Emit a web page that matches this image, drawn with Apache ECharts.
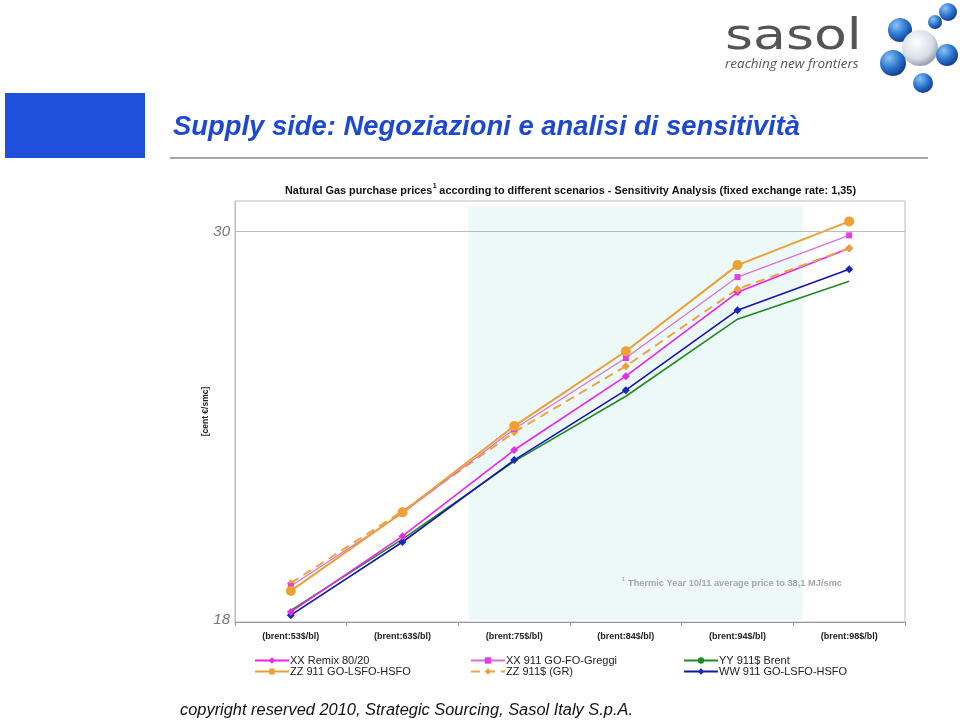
<!DOCTYPE html>
<html>
<head>
<meta charset="utf-8">
<script src="https://cdn.jsdelivr.net/npm/echarts@6/dist/echarts.min.js"></script>
<style>html,body{margin:0;padding:0;background:#fff}#c{width:960px;height:720px}</style>
</head>
<body>
<div id="c"></div>
<script>
var categories = ['(brent:53$/bl)', '(brent:63$/bl)', '(brent:75$/bl)', '(brent:84$/bl)', '(brent:94$/bl)', '(brent:98$/bl)'];
var yTickLabels = [18, 30];
var xxRemix  = [18.25, 20.59, 23.25, 25.53, 28.12, 29.48];
var xxGreggi = [19.05, 21.30, 23.90, 26.09, 28.59, 29.88];
var yyBrent  = [18.30, 20.50, 22.90, 24.91, 27.29, 28.46];
var zzLsfo   = [18.90, 21.33, 23.99, 26.30, 28.96, 30.31];
var zzGr     = [19.14, 21.36, 23.80, 25.84, 28.22, 29.48];
var wwLsfo   = [18.15, 20.41, 22.94, 25.10, 27.57, 28.83];
var seriesNames = ['XX Remix 80/20', 'XX 911 GO-FO-Greggi', 'YY 911$ Brent', 'ZZ 911 GO-LSFO-HSFO', 'ZZ 911$ (GR)', 'WW 911 GO-LSFO-HSFO'];

var chart = echarts.init(document.getElementById('c'));
var F = 'Liberation Sans, Arial, sans-serif';
var ctx = document.createElement('canvas').getContext('2d');
function fit(text, font, target) { ctx.font = font; return target / ctx.measureText(text).width; }

function blueBall(cx, cy, r) {
  return {type: 'circle', z: 10, shape: {cx: cx, cy: cy, r: r}, style: {fill: new echarts.graphic.RadialGradient(0.35, 0.3, 0.8, [{offset: 0, color: '#8cc4f4'}, {offset: 0.5, color: '#2d78d0'}, {offset: 1, color: '#0a2f80'}])}};
}
var legendCommon = {orient: 'vertical', top: 655, padding: 0, itemWidth: 34, itemHeight: 8, itemGap: 0,
  textStyle: {fontFamily: F, fontSize: 11, color: '#222', lineHeight: 11, padding: [0, 0, 0, -4]}};

var titleA = 'Natural Gas purchase prices';
var titleB = ' according to different scenarios - Sensitivity Analysis (fixed exchange rate: 1,35)';
var titleFont = 'bold 11px "Liberation Sans", Arial, sans-serif';
var supW = 4;
ctx.font = titleFont;
var rawA = ctx.measureText(titleA).width, rawB = ctx.measureText(titleB).width;
var tScale = (571 - supW) / (rawA + rawB);
var wA = rawA * tScale;

var header = 'Supply side: Negoziazioni e analisi di sensitività';
var headerFont = 'italic bold 28px "Liberation Sans", Arial, sans-serif';
var hScale = fit(header, headerFont, 627);

var footer = 'copyright reserved 2010, Strategic Sourcing, Sasol Italy S.p.A.';
var footerFont = 'italic 16px "Liberation Sans", Arial, sans-serif';
var fScale = fit(footer, footerFont, 453);

var note = 'Thermic Year 10/11 average price to 38,1 MJ/smc';
var noteFont = 'bold 9px "Liberation Sans", Arial, sans-serif';
var nScale = fit(note, noteFont, 214);

chart.setOption({
  animation: false,
  backgroundColor: '#fff',
  legend: [
    Object.assign({left: 254, data: [seriesNames[0], seriesNames[3]]}, legendCommon),
    Object.assign({left: 470, data: [seriesNames[1], seriesNames[4]]}, legendCommon),
    Object.assign({left: 683, data: [seriesNames[2], seriesNames[5]]}, legendCommon)
  ],
  grid: {left: 235, right: 55, top: 201, bottom: 98, show: true, borderColor: '#bbb', borderWidth: 1, backgroundColor: '#fff'},
  xAxis: [{
    type: 'category', data: categories, boundaryGap: true,
    axisLine: {lineStyle: {color: '#999'}},
    axisTick: {show: true, length: 4, lineStyle: {color: '#999'}},
    axisLabel: {fontFamily: F, fontSize: 9, fontWeight: 'bold', color: '#222', margin: 10}
  }, {
    type: 'value', min: 0, max: 6, show: false
  }],
  yAxis: {
    type: 'value', min: 17.94, max: 30.94,
    name: '[cent €/smc]', nameLocation: 'middle', nameRotate: 90, nameGap: 25, nameMoveOverlap: false,
    nameTextStyle: {fontFamily: F, fontSize: 8.5, fontWeight: 'bold', color: '#222'},
    axisLine: {show: true, lineStyle: {color: '#bbb'}},
    axisTick: {show: false},
    splitLine: {show: false},
    axisLabel: {customValues: yTickLabels, fontFamily: F, fontSize: 15, fontStyle: 'italic', color: '#777', margin: 5}
  },
  graphic: [
    {type: 'rect', z: 10, shape: {x: 5, y: 93, width: 140, height: 65}, style: {fill: '#1f50dc'}},
    {type: 'text', z: 10, x: 173, y: 113, scaleX: hScale, style: {text: header, fill: '#1d48d0', font: headerFont}},
    {type: 'line', z: 10, shape: {x1: 170, y1: 158, x2: 928, y2: 158}, style: {stroke: '#8a8a8a', lineWidth: 1.5}},
    {type: 'text', z: 10, x: 285, y: 185, scaleX: tScale, style: {text: titleA, fill: '#111', font: titleFont}},
    {type: 'text', z: 10, x: 285 + wA + 0.5, y: 183, style: {text: '1', fill: '#111', font: 'bold 7px "Liberation Sans", Arial, sans-serif'}},
    {type: 'text', z: 10, x: 285 + wA + supW, y: 185, scaleX: tScale, style: {text: titleB, fill: '#111', font: titleFont}},
    {type: 'text', z: 10, x: 725, y: 17, scaleX: 1.28, style: {text: 'sasol', fill: '#555', font: '42px "DejaVu Sans", sans-serif'}},
    {type: 'text', z: 10, x: 725, y: 57, style: {text: 'reaching new frontiers', fill: '#555', font: 'italic 13.5px "Open Sans", "DejaVu Sans", sans-serif'}},
    blueBall(900, 30, 12), blueBall(935, 22, 7), blueBall(948, 12, 9),
    {type: 'circle', z: 10, shape: {cx: 920, cy: 48, r: 18}, style: {fill: new echarts.graphic.RadialGradient(0.4, 0.35, 0.75, [{offset: 0, color: '#ffffff'}, {offset: 0.6, color: '#d8dde6'}, {offset: 1, color: '#7a8595'}])}},
    blueBall(947, 55, 11), blueBall(893, 63, 13), blueBall(923, 83, 10),
    {type: 'text', z: 100, x: 622, y: 577, style: {text: '1', fill: '#aaa', font: 'bold 5px "Liberation Sans", Arial, sans-serif'}},
    {type: 'text', z: 100, x: 628, y: 579, scaleX: nScale, style: {text: note, fill: '#a6a6a6', font: noteFont}},
    {type: 'text', z: 10, x: 180, y: 703, scaleX: fScale, style: {text: footer, fill: '#111', font: footerFont}}
  ],
  series: [
    {name: '_shade', type: 'line', xAxisIndex: 1, data: [], silent: true, symbol: 'none',
      markArea: {silent: true, itemStyle: {color: '#edf8f9'}, data: [[{xAxis: 2.09, yAxis: 18}, {xAxis: 5.08, yAxis: 30.76}]]},
      markLine: {silent: true, symbol: 'none', label: {show: false}, lineStyle: {color: '#bbb', type: 'solid', width: 1}, data: [{yAxis: 30}]}},
    {name: seriesNames[2], type: 'line', data: yyBrent, symbol: 'none', lineStyle: {color: '#1f8a22', width: 1.6}, itemStyle: {color: '#1f8a22'}},
    {name: seriesNames[5], type: 'line', data: wwLsfo, symbol: 'diamond', symbolSize: 8, lineStyle: {color: '#1414b4', width: 1.6}, itemStyle: {color: '#1a28b8'}},
    {name: seriesNames[0], type: 'line', data: xxRemix, symbol: 'diamond', symbolSize: 8, lineStyle: {color: '#ee22ee', width: 1.6}, itemStyle: {color: '#e030e0'}},
    {name: seriesNames[4], type: 'line', data: zzGr, symbol: 'diamond', symbolSize: 8, lineStyle: {color: '#e8a640', width: 2, type: [9, 6]}, itemStyle: {color: '#eaa238'}},
    {name: seriesNames[1], type: 'line', data: xxGreggi, symbol: 'rect', symbolSize: 6, lineStyle: {color: '#d870d8', width: 1.2}, itemStyle: {color: '#e040e0'}},
    {name: seriesNames[3], type: 'line', data: zzLsfo, symbol: 'circle', symbolSize: 10, lineStyle: {color: '#eba034', width: 2}, itemStyle: {color: '#eea030'}}
  ]
});
</script>
</body>
</html>
